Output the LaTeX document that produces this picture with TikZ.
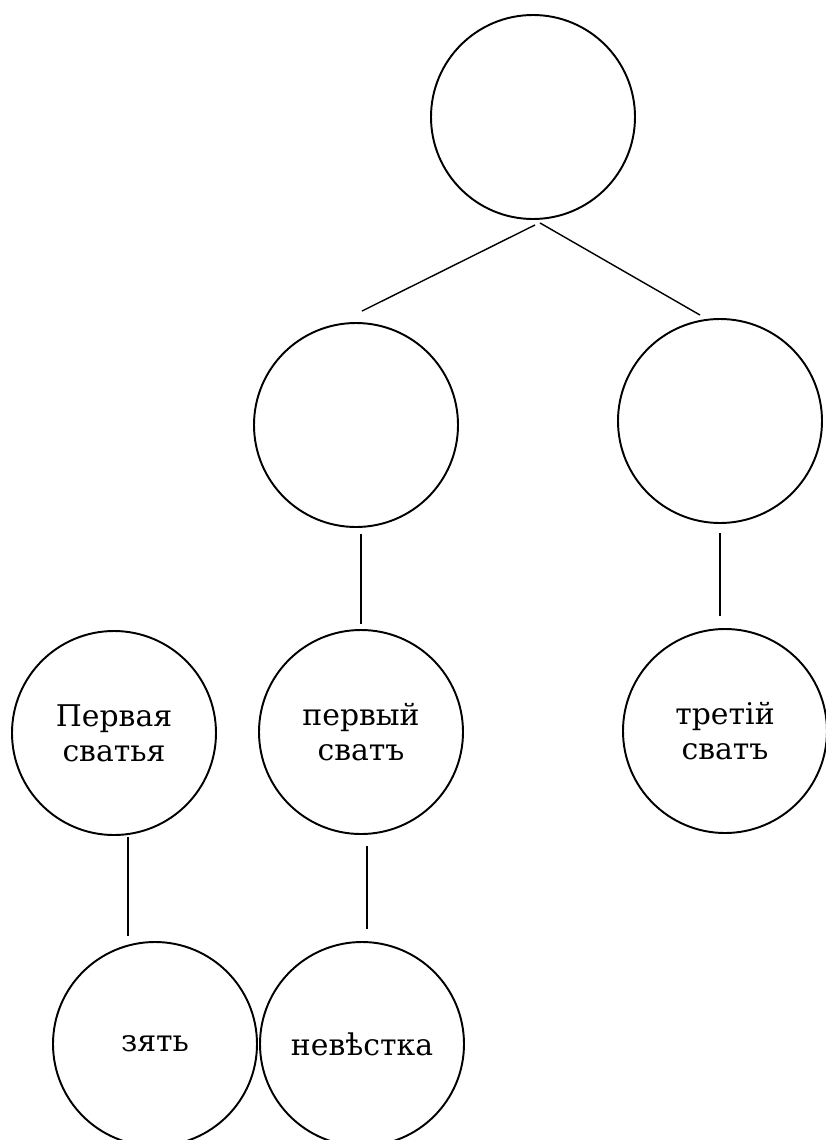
\documentclass[tikz,border=0pt]{standalone}
\usepackage{fontspec}
\setmainfont{DejaVu Serif}
\usepackage{tikz}
\usetikzlibrary{positioning,calc}

\begin{document}
\begin{tikzpicture}[
    kin/.style={circle, draw=black, line width=1.1pt, minimum size=4.08cm, inner sep=0pt,
                align=center, font=\fontsize{17}{20}\selectfont},
    link/.style={draw=black, line width=0.8pt}
]
\useasboundingbox (0,0) rectangle (16.5,-22.8);
% upper generations
\node[kin] (top) at (10.66,-2.34) {};
\node[kin] (ml) at (7.12,-8.50) {};
\node[kin] (mr) at (14.40,-8.42) {};
% in-laws
\node[kin] (ps) at (2.28,-14.66) {Первая\\сватья};
\node[kin] (pv) at (7.22,-14.64) {первый\\сватъ};
\node[kin] (ts) at (14.50,-14.62) {третій\\сватъ};
% the couple
\node[kin] (zt) at (3.10,-20.88) {зять};
\node[kin] (nv) at (7.24,-20.88) {невѣстка};

\draw[link] ($(top.south)+(0.04,-0.10)$) -- ($(ml.north)+(0.12,0.22)$);
\draw[link] ($(top.south)+(0.14,-0.06)$) -- ($(mr.north)+(-0.40,0.06)$);
\draw[link, shorten <=0.12cm, shorten >=0.10cm] (ml.south -| pv.north) -- (pv.north);
\draw[link, shorten <=0.18cm, shorten >=0.24cm] (mr.south) -- (mr.south |- ts.north);
\draw[link, shorten <=0.02cm, shorten >=0.10cm] ($(ps.south)+(0.28,0)$) -- ($(ps.south |- zt.north)+(0.28,0)$);
\draw[link, shorten <=0.22cm, shorten >=0.24cm] ($(pv.south)+(0.12,0)$) -- ($(pv.south |- nv.north)+(0.12,0)$);
\end{tikzpicture}
\end{document}
